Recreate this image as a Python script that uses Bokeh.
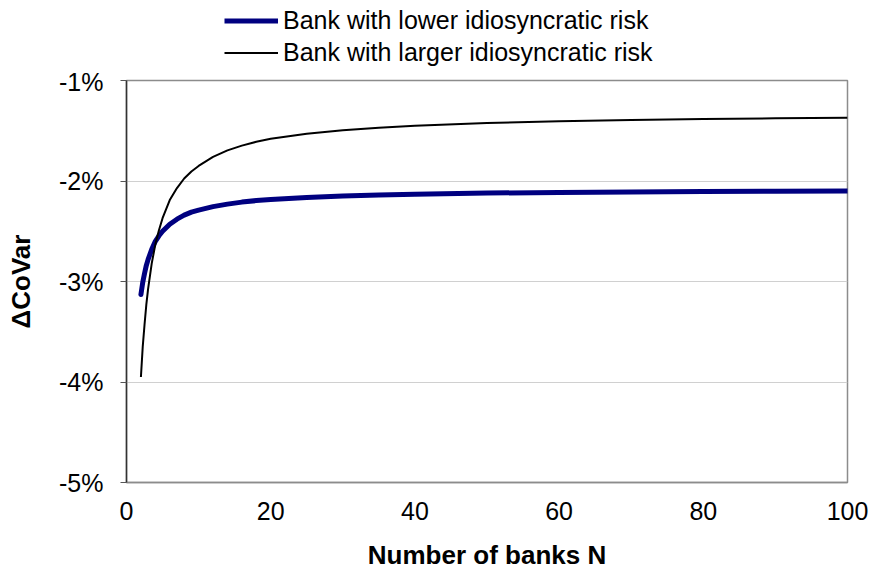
from bokeh.plotting import figure
from bokeh.layouts import column
from bokeh.models import Legend, LegendItem, FixedTicker, Range1d
from bokeh.embed import file_html
from bokeh.resources import INLINE

# Number of banks N
n_banks = [2, 2.25, 2.5, 2.75, 3, 3.5, 4, 4.5, 5, 6, 7, 8, 9, 10, 12, 14, 16, 18, 20, 25, 30, 35, 40, 50, 60, 70, 80, 90, 100]
# Delta CoVar (%) - bank with lower idiosyncratic risk
covar_low = [-3.13, -3.01, -2.92, -2.84, -2.78, -2.68, -2.60, -2.545, -2.50, -2.43, -2.38, -2.34, -2.31, -2.29,
             -2.255, -2.23, -2.21, -2.195, -2.185, -2.165, -2.15, -2.14, -2.132, -2.12, -2.114, -2.109, -2.105,
             -2.102, -2.10]
# Delta CoVar (%) - bank with larger idiosyncratic risk
covar_high = [-3.95, -3.65, -3.43, -3.23, -3.07, -2.82, -2.63, -2.49, -2.37, -2.19, -2.07, -1.975, -1.905, -1.85,
              -1.76, -1.695, -1.648, -1.61, -1.58, -1.53, -1.495, -1.47, -1.45, -1.423, -1.405, -1.392, -1.383,
              -1.376, -1.37]

x_ticks = [0, 20, 40, 60, 80, 100]
y_ticks = [-5, -4, -3, -2, -1]
y_tick_labels = ["-5%", "-4%", "-3%", "-2%", "-1%"]
series_names = ["Bank with lower idiosyncratic risk", "Bank with larger idiosyncratic risk"]
series_colors = ["#000080", "black"]
series_widths = [5, 2]

FONT = "Liberation Sans"
FS = "25px"
FS_TITLE = "26px"

# ---- legend strip (top) ----
leg = figure(width=869, height=67, output_backend="svg", toolbar_location=None,
             x_range=Range1d(0, 1), y_range=Range1d(0, 1),
             min_border=0, min_border_left=0, min_border_right=0, min_border_top=0, min_border_bottom=0,
             x_axis_type=None, y_axis_type=None)
leg.outline_line_color = None
leg.xgrid.visible = False
leg.ygrid.visible = False
# same series drawn off-range in this strip: only their legend glyphs show
leg_r = [leg.line(n_banks, ys, line_color=c, line_width=w)
         for ys, c, w in zip([covar_low, covar_high], series_colors, series_widths)]
legend = Legend(items=[LegendItem(label=n, renderers=[r]) for n, r in zip(series_names, leg_r)],
                location=(98, 0), orientation="vertical")
legend.label_text_font = FONT
legend.label_text_font_size = FS
legend.label_text_color = "black"
legend.glyph_width = 54
legend.glyph_height = 29
legend.label_height = 29
legend.label_standoff = 5
legend.spacing = 3
legend.padding = 0
legend.margin = 0
legend.border_line_color = None
legend.background_fill_alpha = 0
leg.add_layout(legend, "center")

# ---- main chart ----
p = figure(width=869, height=505, output_backend="svg", toolbar_location=None,
           x_range=Range1d(0, 100), y_range=Range1d(-5, -1),
           min_border_left=126, min_border_right=22, min_border_top=13, min_border_bottom=87)
p.background_fill_color = "white"
p.border_fill_color = "white"
p.outline_line_color = "#8c8c8c"
p.outline_line_width = 1.5

p.line(n_banks, covar_low, line_color=series_colors[0], line_width=series_widths[0], line_cap="round")
p.line(n_banks, covar_high, line_color=series_colors[1], line_width=series_widths[1])

p.xgrid.visible = False
p.ygrid.ticker = FixedTicker(ticks=y_ticks)
p.ygrid.grid_line_color = "#d0d0d0"
p.ygrid.grid_line_width = 1

xa = p.xaxis[0]
xa.ticker = FixedTicker(ticks=x_ticks)
xa.major_tick_out = 0
xa.major_tick_in = 0
xa.minor_tick_out = 0
xa.minor_tick_in = 0
xa.axis_line_color = "#8c8c8c"
xa.axis_line_width = 1.5
xa.major_label_text_font = FONT
xa.major_label_text_font_size = FS
xa.major_label_text_color = "black"
xa.major_label_standoff = 19
xa.axis_label = "Number of banks N"
xa.axis_label_text_font = FONT
xa.axis_label_text_font_size = FS_TITLE
xa.axis_label_text_font_style = "bold"
xa.axis_label_text_color = "black"
xa.axis_label_standoff = 17

ya = p.yaxis[0]
ya.ticker = FixedTicker(ticks=y_ticks)
ya.major_label_overrides = {t: l for t, l in zip(y_ticks, y_tick_labels)}
ya.major_tick_out = 6
ya.major_tick_in = 0
ya.minor_tick_out = 0
ya.minor_tick_in = 0
ya.major_tick_line_color = "#555555"
ya.axis_line_color = "#333333"
ya.axis_line_width = 1.5
ya.major_label_text_font = FONT
ya.major_label_text_font_size = FS
ya.major_label_text_color = "black"
ya.major_label_standoff = 17
ya.axis_label = "\u0394CoVar"
ya.axis_label_text_font = FONT
ya.axis_label_text_font_size = FS_TITLE
ya.axis_label_text_font_style = "bold"
ya.axis_label_text_color = "black"
ya.axis_label_standoff = 20

layout = column(leg, p, spacing=0)
open("out.html", "w").write(file_html(layout, INLINE))
